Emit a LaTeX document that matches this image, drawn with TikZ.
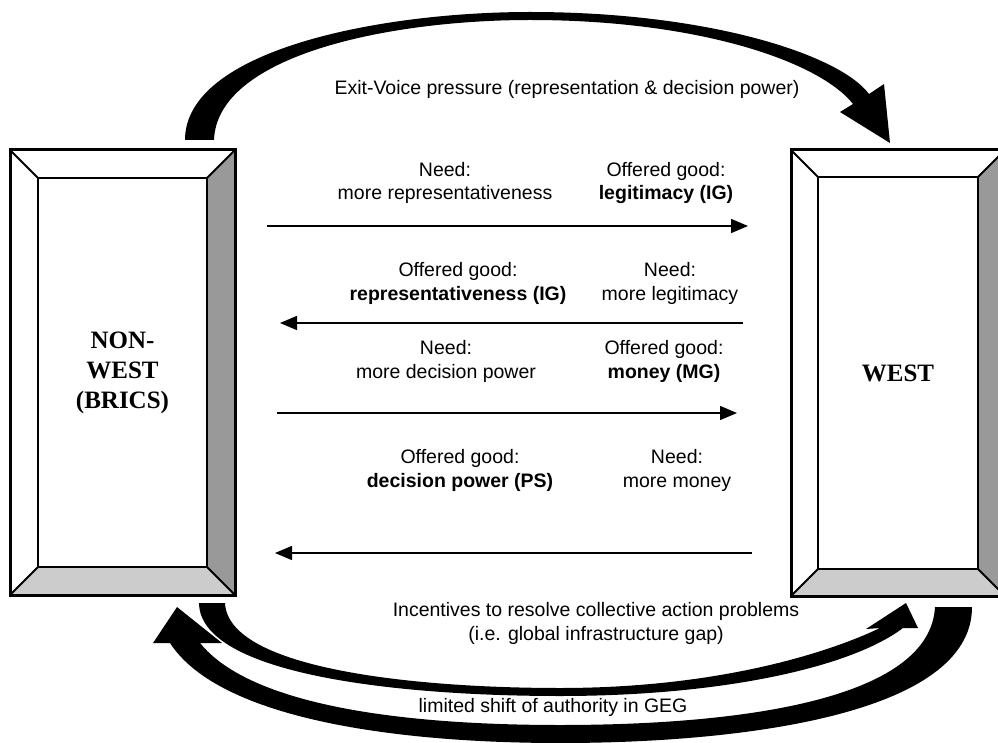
\documentclass[tikz,border=0pt]{standalone}
\usepackage{fontspec}
\setmainfont{Liberation Sans}
\newfontfamily\actorfont{Liberation Serif}
\usepackage{tikz}
\usetikzlibrary{shapes,arrows.meta}

\begin{document}
\begin{tikzpicture}[x=1pt, y=-1pt]

% Define box, label and arrow styles
\tikzstyle{actor} =[inner sep=0pt, outer sep=0pt, align=center,
                    font=\actorfont\bfseries\fontsize{25}{30}\selectfont]
\tikzstyle{lbl} =[inner sep=0pt, anchor=base, align=center,
                  font=\fontsize{19.5}{23.4}\selectfont]
\tikzstyle{flow} =[line width=1.5pt, -{Triangle[length=17pt,width=14pt]}]

\useasboundingbox (0,0) rectangle (998,743);

% the two actors (inner faces of the frames)
\node[actor, minimum width=169pt, minimum height=389pt] (nonwest) at (122.5,372.5) {NON-\\WEST\\(BRICS)};
\node[actor, minimum width=160pt, minimum height=392pt] (west) at (898,373) {WEST};

% bevelled frames
\foreach \b/\d in {nonwest/28, west/27}{
  \fill[black!40] ([shift={(\d,-\d)}]\b.north east) -- ([shift={(\d,\d)}]\b.south east)
                  -- (\b.south east) -- (\b.north east) -- cycle;
  \fill[black!20] ([shift={(\d,\d)}]\b.south east) -- ([shift={(-\d,\d)}]\b.south west)
                  -- (\b.south west) -- (\b.south east) -- cycle;
  \draw[line width=2pt] ([shift={(-\d,-\d)}]\b.north west) -- (\b.north west)
                        ([shift={(\d,-\d)}]\b.north east) -- (\b.north east)
                        ([shift={(\d,\d)}]\b.south east) -- (\b.south east)
                        ([shift={(-\d,\d)}]\b.south west) -- (\b.south west);
  \draw[line width=3pt] ([shift={(-\d,-\d)}]\b.north west) rectangle ([shift={(\d,\d)}]\b.south east);
  \draw[line width=2.5pt] (\b.north west) rectangle (\b.south east);
}

% exchange arrows
\foreach \i/\xa/\xb/\y in {1/267/748/226, 2/743/280/323, 3/277/737/413, 4/752/275/553}{
  \coordinate (from\i) at (\xa,\y);
  \coordinate (to\i) at (\xb,\y);
  \draw[flow] (from\i) -- (to\i);
}

\node[lbl] (need1) at (445,200) {Need:\\more representativeness};
\node[lbl] (offer1) at (666,200) {Offered good:\\\textbf{legitimacy (IG)}};
\node[lbl] (offer2) at (458,300) {Offered good:\\\textbf{representativeness (IG)}};
\node[lbl] (need2) at (670,300) {Need:\\more legitimacy};
\node[lbl] (need3) at (446,378) {Need:\\more decision power};
\node[lbl] (offer3) at (664,378) {Offered good:\\\textbf{money (MG)}};
\node[lbl] (offer4) at (460,487) {Offered good:\\\textbf{decision power (PS)}};
\node[lbl] (need4) at (677,487) {Need:\\more money};

% big curved arrows
\fill (185,140) .. controls (185,50) and (380,12) .. (530,12)
      .. controls (710,12) and (840,55) .. (869,94) -- (884,84) -- (890,143) -- (840,112) -- (853,104)
      .. controls (820,62) and (700,20) .. (530,20)
      .. controls (390,20) and (217,55) .. (214,140) -- cycle;
\fill (225,603) .. controls (228,670) and (420,688) .. (560,688)
      .. controls (720,688) and (830,652) .. (880,628) -- (866,629) -- (906,603) -- (918,628) -- (903,628)
      .. controls (850,668) and (720,696) .. (560,696)
      .. controls (400,696) and (200,675) .. (199,603) -- cycle;
\fill (972,607) .. controls (972,715) and (740,743) .. (560,743)
      .. controls (400,743) and (220,720) .. (170,643) -- (153,643) -- (177,607) -- (222,643) -- (200,643)
      .. controls (250,705) and (400,725) .. (560,725)
      .. controls (740,725) and (930,700) .. (935,607) -- cycle;

\node[lbl] (exitvoice) at (567,95) {Exit-Voice pressure (representation \& decision power)};
\node[lbl] (incentives) at (596,640) {Incentives to resolve collective action problems\\(i.e. global infrastructure gap)};
\node[lbl] (authority) at (553,712) {limited shift of authority in GEG};

\end{tikzpicture}
\end{document}
